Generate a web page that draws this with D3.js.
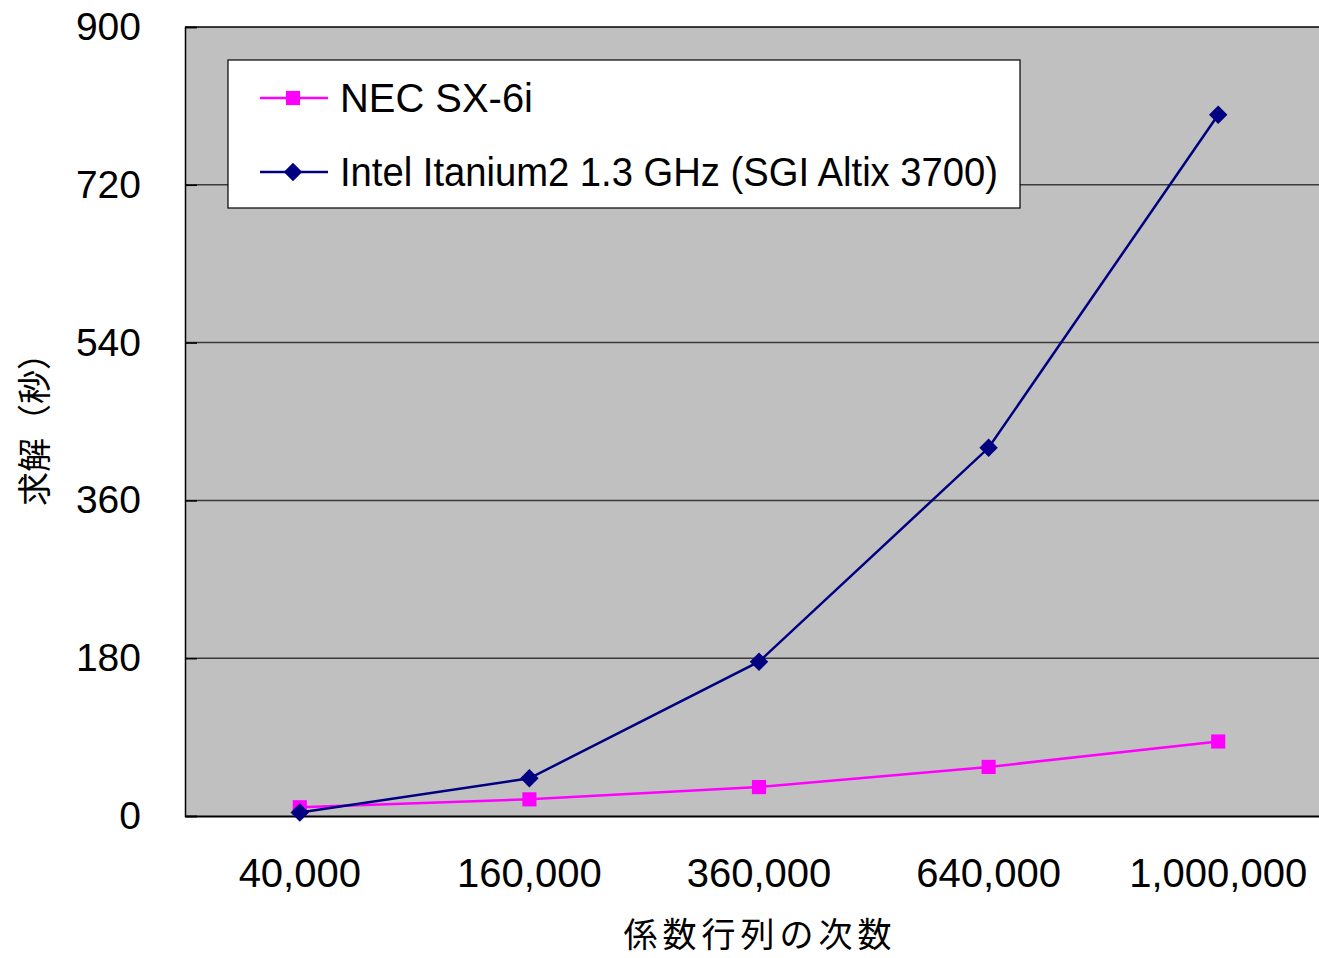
<!DOCTYPE html>
<html>
<head>
<meta charset="utf-8">
<title>求解時間</title>
<script src="https://cdn.jsdelivr.net/npm/d3@7"></script>
<style>
  body { margin: 0; background: #fff; }
  text { font-family: "Liberation Sans", Arial, sans-serif; fill: #000; }
  .cjk { font-family: "Noto Sans CJK JP", sans-serif; }
</style>
</head>
<body>
<div id="chart"></div>
<script>
// data
var categories = ["40,000", "160,000", "360,000", "640,000", "1,000,000"];
var necValues = [10, 19, 33, 56, 85];
var intelValues = [4, 43, 176, 420, 800];
var yTicks = [0, 180, 360, 540, 720, 900];
var seriesNames = ["NEC SX-6i", "Intel Itanium2 1.3 GHz (SGI Altix 3700)"];

var width = 1319, height = 958;
var margin = {top: 27, right: -14, bottom: 142, left: 185};
var plotW = width - margin.left - margin.right,
    plotH = height - margin.top - margin.bottom;

var svg = d3.select("#chart").append("svg")
    .attr("width", width)
    .attr("height", height);

var x = d3.scaleBand().domain(categories).range([0, plotW]);
var y = d3.scaleLinear().domain([0, 900]).range([plotH, 0]);

var g = svg.append("g")
    .attr("transform", "translate(" + margin.left + "," + margin.top + ")");

// plot background
g.append("rect")
    .attr("width", plotW).attr("height", plotH)
    .attr("fill", "#c0c0c0");

// gridlines
g.selectAll(".grid")
    .data(yTicks.slice(1))
  .enter().append("line")
    .attr("x1", 0).attr("x2", plotW)
    .attr("y1", function(d) { return y(d); })
    .attr("y2", function(d) { return y(d); })
    .attr("stroke", function(d) { return d === 900 ? "#000" : "#3a3a3a"; })
    .attr("stroke-width", 1.5);

// y axis
var yAxis = g.append("g")
    .call(d3.axisLeft(y).tickValues(yTicks).tickSize(-12).tickPadding(44).tickFormat(d3.format("d")));
yAxis.select(".domain").attr("stroke", "#000").attr("stroke-width", 1.5);
yAxis.selectAll(".tick line").attr("stroke", "#000").attr("stroke-width", 1.5);
yAxis.selectAll("text").style("font-size", "39px").attr("fill", "#000");

// x axis
var xAxis = g.append("g")
    .attr("transform", "translate(0," + plotH + ")")
    .call(d3.axisBottom(x).tickSize(0).tickPadding(43));
xAxis.select(".domain").attr("stroke", "#000").attr("stroke-width", 2);
xAxis.selectAll("text").style("font-size", "40px").attr("fill", "#000");

// lines
var line = d3.line()
    .x(function(d, i) { return x(categories[i]) + x.bandwidth() / 2; })
    .y(function(d) { return y(d); });

g.append("path").datum(necValues)
    .attr("d", line).attr("fill", "none")
    .attr("stroke", "#ff00ff").attr("stroke-width", 2.5);
g.append("path").datum(intelValues)
    .attr("d", line).attr("fill", "none")
    .attr("stroke", "#000080").attr("stroke-width", 2.5);

var square = d3.symbol().type(d3.symbolSquare).size(200);
var diamond = d3.symbol().type(d3.symbolSquare).size(170);

g.selectAll(".nec")
    .data(necValues)
  .enter().append("path")
    .attr("d", square)
    .attr("transform", function(d, i) {
      return "translate(" + (x(categories[i]) + x.bandwidth() / 2) + "," + y(d) + ")";
    })
    .attr("fill", "#ff00ff");

g.selectAll(".intel")
    .data(intelValues)
  .enter().append("path")
    .attr("d", diamond)
    .attr("transform", function(d, i) {
      return "translate(" + (x(categories[i]) + x.bandwidth() / 2) + "," + y(d) + ") rotate(45)";
    })
    .attr("fill", "#000080");

// legend
var legend = svg.append("g").attr("transform", "translate(228,60)");
legend.append("rect")
    .attr("width", 792).attr("height", 148)
    .attr("fill", "#fff").attr("stroke", "#000").attr("stroke-width", 1.2);

var rows = [
  {name: seriesNames[0], color: "#ff00ff", sym: square, rot: "", len: 193},
  {name: seriesNames[1], color: "#000080", sym: diamond, rot: " rotate(45)", len: 658}
];
rows.forEach(function(r, i) {
  var ry = 38 + i * 74;
  legend.append("line")
      .attr("x1", 32).attr("x2", 100)
      .attr("y1", ry).attr("y2", ry)
      .attr("stroke", r.color).attr("stroke-width", 2.5);
  legend.append("path")
      .attr("d", r.sym)
      .attr("transform", "translate(65," + ry + ")" + r.rot)
      .attr("fill", r.color);
  legend.append("text")
      .attr("x", 112).attr("y", ry)
      .attr("dy", "0.36em")
      .attr("textLength", r.len)
      .attr("lengthAdjust", "spacingAndGlyphs")
      .style("font-size", "40px")
      .text(r.name);
});

// axis titles
svg.append("text")
    .attr("class", "cjk")
    .attr("transform", "translate(35,421) rotate(-90)")
    .attr("text-anchor", "middle")
    .attr("dy", "0.36em")
    .style("font-size", "34px")
    .text("求解（秒）");

svg.append("text")
    .attr("class", "cjk")
    .attr("x", 760).attr("y", 947)
    .attr("text-anchor", "middle")
    .style("font-size", "34px")
    .style("letter-spacing", "5px")
    .text("係数行列の次数");
</script>
</body>
</html>
